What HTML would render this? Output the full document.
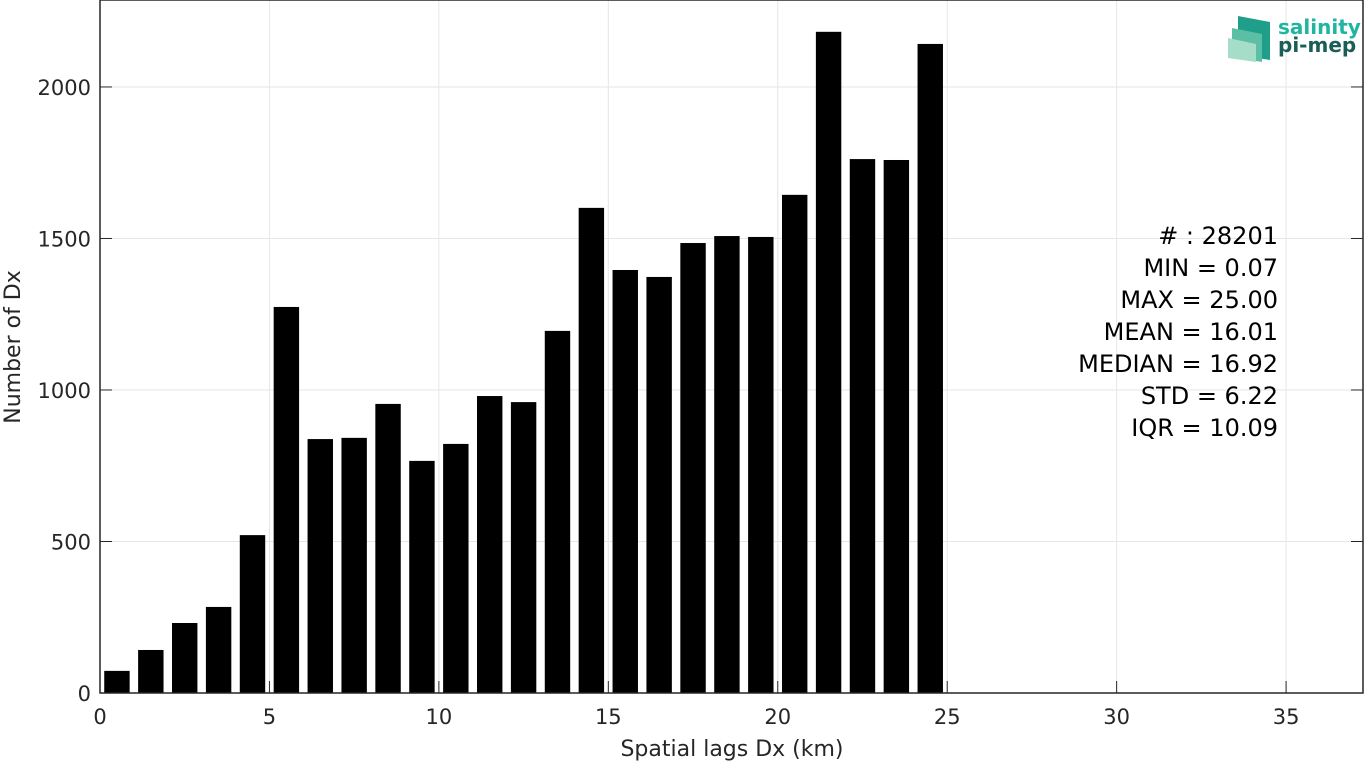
<!DOCTYPE html>
<html><head><meta charset="utf-8"><style>
body{margin:0;background:#fff;}
svg text{font-family:"DejaVu Sans","Liberation Sans",sans-serif;fill:#262626;}
</style></head><body>
<svg width="1365" height="763" viewBox="0 0 1365 763" id="chart">
<rect width="1365" height="763" fill="#fff"/>
<g id="grid"></g>
<g id="bars"></g>
<g id="axes"></g>
<text x="732" y="756" text-anchor="middle" font-size="22">Spatial lags Dx (km)</text>
<text transform="translate(20,347) rotate(-90)" text-anchor="middle" font-size="22">Number of Dx</text>
<g font-size="24" text-anchor="end" fill="#000">
<text x="1278" y="244" style="fill:#000">#  : 28201</text>
<text x="1278" y="276" style="fill:#000">MIN = 0.07</text>
<text x="1278" y="308" style="fill:#000">MAX =  25.00</text>
<text x="1278" y="340" style="fill:#000">MEAN = 16.01</text>
<text x="1278" y="372" style="fill:#000">MEDIAN = 16.92</text>
<text x="1278" y="404" style="fill:#000">STD = 6.22</text>
<text x="1278" y="436" style="fill:#000">IQR = 10.09</text>
</g>
<g>
<polygon points="1238,16 1270,22 1270,60 1238,55" fill="#1f9e8a"/>
<polygon points="1232,28 1262,34 1262,62 1232,57" fill="#5cbfa5"/>
<polygon points="1228,38 1256,44 1256,62 1228,58" fill="#a6ddc8"/>
<text x="1278" y="34" font-size="20" font-weight="bold" style="fill:#1fb5a0">salinity</text>
<text x="1278" y="52" font-size="20" font-weight="bold" style="fill:#1a5e55">pi-mep</text>
</g>
</svg>
<script>
const categories=[0.5,1.5,2.5,3.5,4.5,5.5,6.5,7.5,8.5,9.5,10.5,11.5,12.5,13.5,14.5,15.5,16.5,17.5,18.5,19.5,20.5,21.5,22.5,23.5,24.5];
const counts=[73,142,231,284,521,1274,838,842,954,766,822,980,960,1195,1601,1396,1373,1485,1508,1505,1644,2182,1762,1759,2142];
const xTicks=[0,5,10,15,20,25,30,35];
const yTicks=[0,500,1000,1500,2000];
const L=100,R=1363,T=0,B=693,XMAX=37.27,YMAX=2287;
const x=v=>L+v/XMAX*(R-L), y=v=>B-v/YMAX*(B-T);
const NS='http://www.w3.org/2000/svg';
function mk(t,a,p){const e=document.createElementNS(NS,t);for(const k in a)e.setAttribute(k,a[k]);p.appendChild(e);return e;}
const grid=document.getElementById('grid'),bars=document.getElementById('bars'),axes=document.getElementById('axes');
xTicks.forEach(t=>{const g=mk('line',{x1:x(t),x2:x(t),y1:T,y2:B,stroke:'#e6e6e6'},grid);

const tk=mk('line',{x1:x(t),x2:x(t),y1:B,y2:B-12,stroke:'#262626'},axes);

const tx=mk('text',{x:x(t),y:B+31,'text-anchor':'middle','font-size':'21'},axes);tx.textContent=t;
});
yTicks.forEach(t=>{const g=mk('line',{x1:L,x2:R,y1:y(t),y2:y(t),stroke:'#e6e6e6'},grid);

const tk=mk('line',{x1:L,x2:L+12,y1:y(t),y2:y(t),stroke:'#262626'},axes);

const tk2=mk('line',{x1:R,x2:R-12,y1:y(t),y2:y(t),stroke:'#262626'},axes);

const tx=mk('text',{x:L-9,y:y(t)+8,'text-anchor':'end','font-size':'21'},axes);tx.textContent=t;
});
const w=0.75;
categories.forEach((c,i)=>{const r=mk('rect',{x:x(c-w/2),y:y(counts[i]),width:x(w)-x(0),height:B-y(counts[i]),fill:'#000'},bars);
});
const box=mk('rect',{x:L,y:T,width:R-L,height:B-T,fill:'none',stroke:'#262626','stroke-width':1.5},axes);

</script>
</body></html>
